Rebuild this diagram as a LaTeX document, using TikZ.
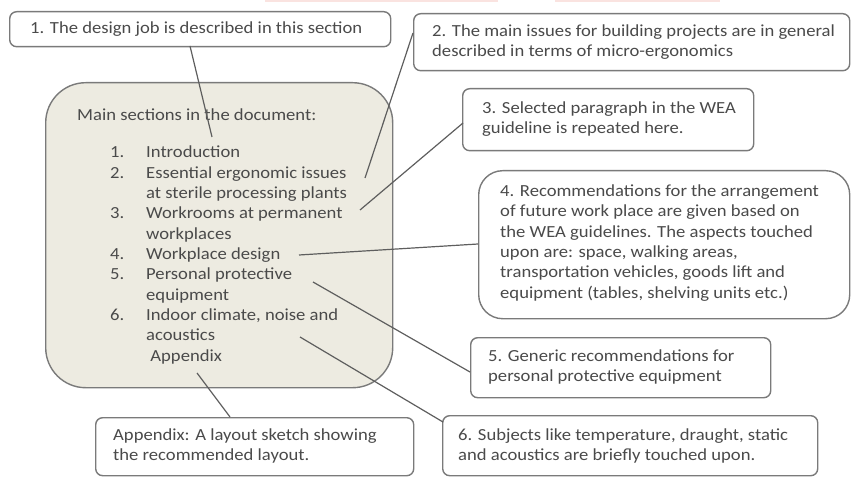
\documentclass[tikz,border=0pt]{standalone}
\usepackage{fontspec}
\setmainfont{Carlito}[FakeStretch=1.1]
\definecolor{txt}{HTML}{4A4A4A}
\definecolor{edge}{HTML}{7A7A7A}
\definecolor{beige}{HTML}{EDEBE1}
\definecolor{lnk}{HTML}{5E5E5E}
\definecolor{pinkish}{HTML}{FAE3E0}
\begin{document}
\begin{tikzpicture}[x=1bp,y=-1bp,
  font=\fontsize{17}{20.4}\selectfont,
  callout/.style={draw=edge, line width=1.4bp, rounded corners=7bp, fill=white,
    text=txt, align=left, inner sep=0pt, anchor=north west},
  link/.style={draw=lnk, line width=1.2bp}]
\useasboundingbox (0,0) rectangle (851,478);
\fill[pinkish] (265,0) rectangle (498,2.5);
\fill[pinkish] (555,0) rectangle (720,2.5);
% main box
\node[draw=edge, line width=1.4bp, fill=beige, rounded corners=40bp,
  minimum width=347bp, minimum height=305bp, anchor=north west] (main) at (45,82) {};
\node[text=txt, anchor=west, inner sep=0pt] (title) at (77,115) {Main sections in the document:};
\node[text=txt, anchor=base west, inner sep=0pt, align=left] (list) at (110,158)
{\begin{tabular}[t]{@{}p{36bp}@{}l@{}}
1. & Introduction\\
2. & Essential ergonomic issues\\
   & at sterile processing plants\\
3. & Workrooms at permanent\\
   & workplaces\\
4. & Workplace design\\
5. & Personal protective\\
   & equipment\\
6. & Indoor climate, noise and\\
   & acoustics\\
   & \ Appendix
\end{tabular}};
% callouts
\node[callout, minimum width=381bp, minimum height=35bp] (b1) at (9,11) {};
\node[text=txt, anchor=west, inner sep=0pt] (t1) at (30,29) {1. The design job is described in this section};
\node[callout, minimum width=436bp, minimum height=57bp] (b2) at (413,13) {};
\node[text=txt, anchor=west, inner sep=0pt, align=left] (t2) at (432,42) {2. The main issues for building projects are in general\\described in terms of micro-ergonomics};
\node[callout, minimum width=291bp, minimum height=62bp] (b3) at (462,88) {};
\node[text=txt, anchor=west, inner sep=0pt, align=left] (t3) at (482,119) {3. Selected paragraph in the WEA\\guideline is repeated here.};
\node[callout, rounded corners=24bp, minimum width=371bp, minimum height=148bp] (b4) at (478,170) {};
\node[text=txt, anchor=west, inner sep=0pt, align=left] (t4) at (500,243) {4. Recommendations for the arrangement\\of future work place are given based on\\the WEA guidelines. The aspects touched\\upon are: space, walking areas,\\transportation vehicles, goods lift and\\equipment (tables, shelving units etc.)};
\node[callout, minimum width=300bp, minimum height=60bp] (b5) at (470,337) {};
\node[text=txt, anchor=west, inner sep=0pt, align=left] (t5) at (488,367) {5. Generic recommendations for\\personal protective equipment};
\node[callout, minimum width=375bp, minimum height=60bp] (b6) at (442,415) {};
\node[text=txt, anchor=west, inner sep=0pt, align=left] (t6) at (458,446) {6. Subjects like temperature, draught, static\\and acoustics are briefly touched upon.};
\node[callout, minimum width=318bp, minimum height=58bp] (b7) at (95,417) {};
\node[text=txt, anchor=west, inner sep=0pt, align=left] (t7) at (113,446) {Appendix: A layout sketch showing\\the recommended layout.};
% anchor coordinates in main list
\coordinate (c1) at (212,137);
\coordinate (c2) at (365,178);
\coordinate (c3) at (360,210);
\coordinate (c4) at (299,255);
\coordinate (c5) at (313,282);
\coordinate (c6) at (300,337);
\coordinate (c7) at (197,373);
\coordinate (e1) at (190,46);
\coordinate (e2) at (413,33);
\coordinate (e3) at (463,123);
\coordinate (e4) at (478,244);
\coordinate (e5) at (470,372);
\coordinate (e6) at (443,422);
\coordinate (e7) at (230,417);
\draw[link] (e1) -- (c1);
\draw[link] (e2) -- (c2);
\draw[link] (e3) -- (c3);
\draw[link] (e4) -- (c4);
\draw[link] (e5) -- (c5);
\draw[link] (e6) -- (c6);
\draw[link] (e7) -- (c7);
\end{tikzpicture}
\end{document}
